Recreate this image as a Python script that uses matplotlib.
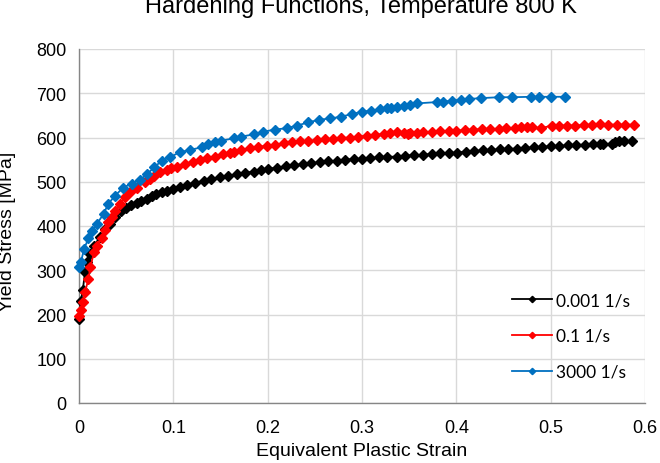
import matplotlib
matplotlib.use("Agg")
import matplotlib.pyplot as plt

# Données (déformation plastique équivalente, contrainte en MPa)
strain_slow = [0, 0.002, 0.004, 0.0064, 0.009, 0.0117, 0.016, 0.022, 0.0276, 0.033,
               0.038, 0.045, 0.05, 0.055, 0.061, 0.066, 0.072, 0.077, 0.082, 0.088,
               0.093, 0.1, 0.107, 0.114, 0.123, 0.132, 0.14, 0.149, 0.158, 0.167,
               0.176, 0.185, 0.193, 0.2, 0.21, 0.219, 0.228, 0.237, 0.246, 0.255,
               0.264, 0.273, 0.282, 0.291, 0.3, 0.309, 0.318, 0.327, 0.337, 0.346,
               0.355, 0.365, 0.374, 0.383, 0.392, 0.401, 0.41, 0.419, 0.428, 0.437,
               0.446, 0.455, 0.464, 0.473, 0.482, 0.491, 0.5, 0.509, 0.518, 0.527,
               0.536, 0.545, 0.552, 0.556, 0.565, 0.568, 0.572, 0.578, 0.586]
stress_slow = [190, 231, 255, 296, 318, 337, 355, 375, 393, 404,
               420, 435, 441, 447, 453, 457, 461, 467, 472, 476,
               480, 484, 489, 493, 498, 502, 506, 510, 513, 517,
               520, 523, 526, 529, 532, 535, 537, 540, 542, 544,
               546, 548, 550, 551, 552, 554, 555, 556, 557, 559,
               560, 561, 563, 564, 565, 566, 568, 569, 571, 572,
               573, 574, 575, 576, 578, 579, 580, 581, 582, 583,
               584, 585, 586, 585, 586, 590, 592, 591, 591]

strain_mid = [0, 0.002, 0.004, 0.0064, 0.01, 0.012, 0.016, 0.019, 0.024, 0.028,
              0.031, 0.035, 0.038, 0.043, 0.049, 0.054, 0.061, 0.07, 0.075, 0.08,
              0.086, 0.093, 0.098, 0.104, 0.112, 0.121, 0.128, 0.136, 0.144, 0.153,
              0.16, 0.164, 0.172, 0.181, 0.19, 0.199, 0.208, 0.217, 0.226, 0.234,
              0.243, 0.252, 0.261, 0.269, 0.278, 0.287, 0.296, 0.305, 0.314, 0.323,
              0.33, 0.337, 0.344, 0.349, 0.351, 0.358, 0.365, 0.374, 0.383, 0.392,
              0.4, 0.409, 0.418, 0.427, 0.436, 0.445, 0.453, 0.462, 0.469, 0.475,
              0.48, 0.49, 0.501, 0.509, 0.517, 0.526, 0.535, 0.544, 0.552, 0.561,
              0.57, 0.579, 0.588]
stress_mid = [197, 210, 228, 251, 280, 307, 341, 355, 374, 392,
              408, 420, 435, 450, 465, 477, 487, 499, 507, 514,
              521, 527, 531, 534, 540, 544, 550, 553, 556, 562,
              565, 567, 571, 577, 579, 581, 584, 587, 589, 591,
              592, 594, 596, 597, 599, 600, 602, 604, 606, 608,
              611, 612, 611, 609, 610, 611, 612, 613, 614, 615,
              615, 617, 618, 619, 619, 620, 621, 622, 623, 624,
              623, 621, 627, 627, 627, 627, 628, 629, 630, 629,
              629, 629, 629]

strain_fast = [0, 0.002, 0.0053, 0.01, 0.014, 0.019, 0.026, 0.031, 0.038, 0.047,
               0.056, 0.065, 0.072, 0.08, 0.088, 0.096, 0.107, 0.118, 0.13, 0.137,
               0.144, 0.151, 0.164, 0.172, 0.185, 0.195, 0.208, 0.22, 0.231, 0.243,
               0.254, 0.266, 0.278, 0.289, 0.3, 0.31, 0.319, 0.326, 0.331, 0.337,
               0.344, 0.351, 0.358, 0.379, 0.386, 0.395, 0.405, 0.413, 0.426, 0.445,
               0.459, 0.479, 0.488, 0.5, 0.515]
stress_fast = [307, 318, 348, 372, 388, 405, 427, 450, 468, 487,
               496, 505, 517, 533, 548, 555, 567, 572, 578, 585,
               589, 593, 598, 602, 607, 613, 618, 621, 627, 634,
               640, 643, 647, 653, 658, 661, 664, 666, 667, 670,
               672, 674, 677, 680, 681, 683, 685, 687, 689, 691,
               691, 692, 692, 692, 692]

labels = ["0.001 1/s", "0.1 1/s", "3000 1/s"]
colors = ["#000000", "#FF0000", "#0070C0"]
xticks = [0, 0.1, 0.2, 0.3, 0.4, 0.5, 0.6]
xticklabels = ["0", "0.1", "0.2", "0.3", "0.4", "0.5", "0.6"]
yticks = [0, 100, 200, 300, 400, 500, 600, 700, 800]

plt.rcParams['font.family'] = ['Liberation Sans', 'DejaVu Sans']

fig = plt.figure(figsize=(6.6, 4.64), dpi=100)
ax = fig.add_axes([79 / 660, 60 / 464, 566 / 660, 354 / 464])

series = [(strain_slow, stress_slow), (strain_mid, stress_mid), (strain_fast, stress_fast)]
for (x, y), lab, col in zip(series, labels, colors):
    ax.plot(x, y, color=col, lw=1.3, marker="D", ms=4.6, mec=col, mfc=col, label=lab,
            clip_on=False, zorder=3)

ax.set_xlim(0, 0.6)
ax.set_ylim(0, 800)
ax.set_xticks(xticks)
ax.set_xticklabels(xticklabels)
ax.set_yticks(yticks)
ax.tick_params(axis="both", length=0, labelsize=13, colors="#000000")
ax.tick_params(axis="x", pad=11.5)
ax.tick_params(axis="y", pad=9)

ax.grid(True, color="#D9D9D9", lw=1.0)
ax.set_axisbelow(True)
for s in ["top", "right"]:
    ax.spines[s].set_visible(False)
for s in ["left", "bottom"]:
    ax.spines[s].set_color("#868686")
    ax.spines[s].set_linewidth(1.0)

ax.set_xlabel("Equivalent Plastic Strain", fontsize=14, labelpad=4)
ax.set_ylabel("Yield Stress [MPa]", fontsize=14)
ax.yaxis.set_label_coords(16 / 660, 0.5, transform=fig.transFigure)

# titre coupé en haut, comme sur l'original
fig.text(361 / 660, 1 - 13 / 464, "Hardening Functions, Temperature 800 K",
         ha="center", va="baseline", fontsize=17)

leg = ax.legend(loc="center left", bbox_to_anchor=(512 / 660, 1 - 337 / 464),
                bbox_transform=fig.transFigure, frameon=False,
                prop={"family": ["Lato", "DejaVu Sans"], "size": 12.5},
                handlelength=2.3, handletextpad=0.25, labelspacing=1.15,
                borderpad=0, borderaxespad=0, markerscale=0.7)

fig.savefig("out.png", dpi=100)
